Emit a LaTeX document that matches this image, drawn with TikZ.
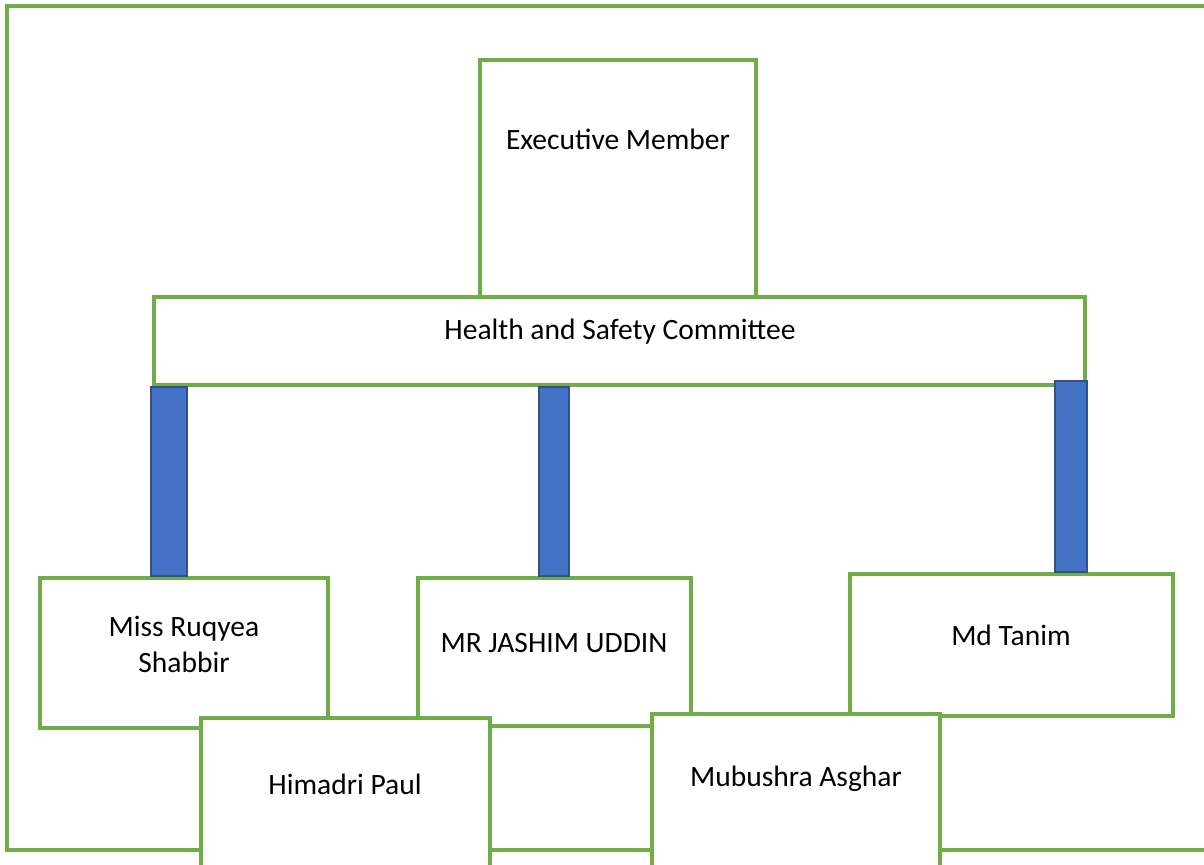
\documentclass[tikz,border=0pt]{standalone}
\usepackage{fontspec}
\setmainfont{Carlito}
\usetikzlibrary{fit}
\definecolor{boxgreen}{HTML}{70AD47}
\definecolor{barblue}{HTML}{4472C4}
\definecolor{bardark}{HTML}{2F528F}

\begin{document}
\begin{tikzpicture}[x=0.02cm,y=-0.02cm]
\tikzstyle{every node}+=[inner sep=0pt, font=\fontsize{16.8}{20.5}\selectfont]
\tikzstyle{box}=[draw=boxgreen, line width=1.9pt, fill=white]
\tikzstyle{bar}=[draw=bardark, line width=1.2pt, fill=barblue]
\useasboundingbox (0,0) rectangle (1204,865);
% outer frame
\draw [boxgreen, line width=1.9pt] (7,6) rectangle (1240,850);
% top of the chart
\node [box, fit={(480,60) (756,297)}] (exec) {};
\node (exec-t) at (618,139) {Executive Member};
\node [box, fit={(154,297) (1085,385)}] (hs) {};
\node (hs-t) at (620,332) {Health and Safety Committee};
% members
\node [box, fit={(40,578) (328,728)}] (ruq) {};
\node [align=center] (ruq-t) at (184,644) {Miss Ruqyea\\Shabbir};
\node [box, fit={(418,578) (691,726)}] (jas) {};
\node (jas-t) at (554,643) {MR JASHIM UDDIN};
\node [box, fit={(850,574) (1173,716)}] (tan) {};
\node (tan-t) at (1011,635) {Md Tanim};
\draw [bar] (151,0 |- hs.south) rectangle (187,0 |- ruq.north);
\draw [bar] (539,0 |- hs.south) rectangle (569,0 |- jas.north);
\draw [bar] (1055,381) rectangle (1087,0 |- tan.north);
\node [box, fit={(201,718) (490,900)}] (him) {};
\node (him-t) at (345,784) {Himadri Paul};
\node [box, fit={(652,714) (940,900)}] (mub) {};
\node (mub-t) at (796,779) {Mubushra Asghar};
\end{tikzpicture}
\end{document}
